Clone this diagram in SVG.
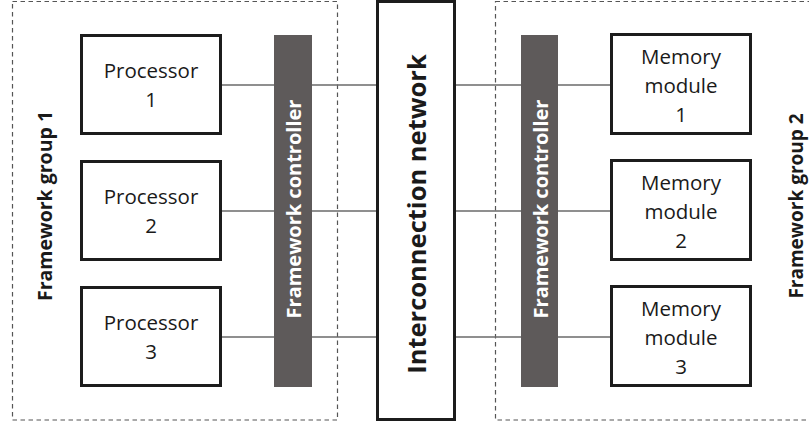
<svg xmlns="http://www.w3.org/2000/svg" width="809" height="423" viewBox="0 0 809 423">
<style>
.grp{fill:none;stroke:#555;stroke-width:1.2;stroke-dasharray:4.5 3.5}
.box{fill:#fff;stroke:#1c1c1c;stroke-width:3}
.bar{fill:#5e5a5a}
.conn{stroke:#6a6a6a;stroke-width:1.4;fill:none}
.lbl{font-family:"Open Sans","DejaVu Sans",sans-serif;font-size:20.5px;fill:#1a1a1a;text-anchor:middle}
.vt{font-family:"Open Sans","DejaVu Sans",sans-serif;font-weight:bold;text-anchor:middle}
</style>
<rect width="809" height="423" fill="#fff"/>
<g id="group1">
<rect class="grp" x="12.5" y="1.5" width="325" height="418.5"/>
<text class="vt" font-size="19.5" fill="#1a1a1a" transform="translate(52,206) rotate(-90)">Framework group 1</text>
</g>
<g id="group2">
<rect class="grp" x="495.5" y="1.5" width="330" height="418.5"/>
<text class="vt" font-size="19" fill="#1a1a1a" transform="translate(803,206) rotate(-90)">Framework group 2</text>
</g>
<g id="connectors">
<line class="conn" x1="222" y1="85" x2="377" y2="85"/>
<line class="conn" x1="222" y1="211" x2="377" y2="211"/>
<line class="conn" x1="222" y1="337" x2="377" y2="337"/>
<line class="conn" x1="455" y1="85" x2="610" y2="85"/>
<line class="conn" x1="455" y1="211" x2="610" y2="211"/>
<line class="conn" x1="455" y1="337" x2="610" y2="337"/>
</g>
<g id="processor1">
<rect class="box" x="81.5" y="35.5" width="139" height="98"/>
<text class="lbl" x="151" y="78">Processor</text>
<text class="lbl" x="151" y="107">1</text>
</g>
<g id="processor2">
<rect class="box" x="81.5" y="161.5" width="139" height="98"/>
<text class="lbl" x="151" y="204">Processor</text>
<text class="lbl" x="151" y="233">2</text>
</g>
<g id="processor3">
<rect class="box" x="81.5" y="287.5" width="139" height="98"/>
<text class="lbl" x="151" y="330">Processor</text>
<text class="lbl" x="151" y="359">3</text>
</g>
<g id="controller1">
<rect class="bar" x="274" y="35" width="38" height="352"/>
<text class="vt" font-size="20" fill="#fff" transform="translate(301,209) rotate(-90)">Framework controller</text>
</g>
<g id="interconnect">
<rect class="box" x="377.5" y="1.5" width="77" height="418"/>
<text class="vt" font-size="25.5" fill="#1a1a1a" transform="translate(426,214) rotate(-90)">Interconnection network</text>
</g>
<g id="controller2">
<rect class="bar" x="521" y="35" width="37" height="352"/>
<text class="vt" font-size="20" fill="#fff" transform="translate(548,209) rotate(-90)">Framework controller</text>
</g>
<g id="memory1">
<rect class="box" x="611.5" y="34.5" width="139" height="99"/>
<text class="lbl" x="681" y="63.5">Memory</text>
<text class="lbl" x="681" y="92.5">module</text>
<text class="lbl" x="681" y="121.5">1</text>
</g>
<g id="memory2">
<rect class="box" x="611.5" y="160.5" width="139" height="99"/>
<text class="lbl" x="681" y="189.5">Memory</text>
<text class="lbl" x="681" y="218.5">module</text>
<text class="lbl" x="681" y="247.5">2</text>
</g>
<g id="memory3">
<rect class="box" x="611.5" y="286.5" width="139" height="99"/>
<text class="lbl" x="681" y="315.5">Memory</text>
<text class="lbl" x="681" y="344.5">module</text>
<text class="lbl" x="681" y="373.5">3</text>
</g>
</svg>
